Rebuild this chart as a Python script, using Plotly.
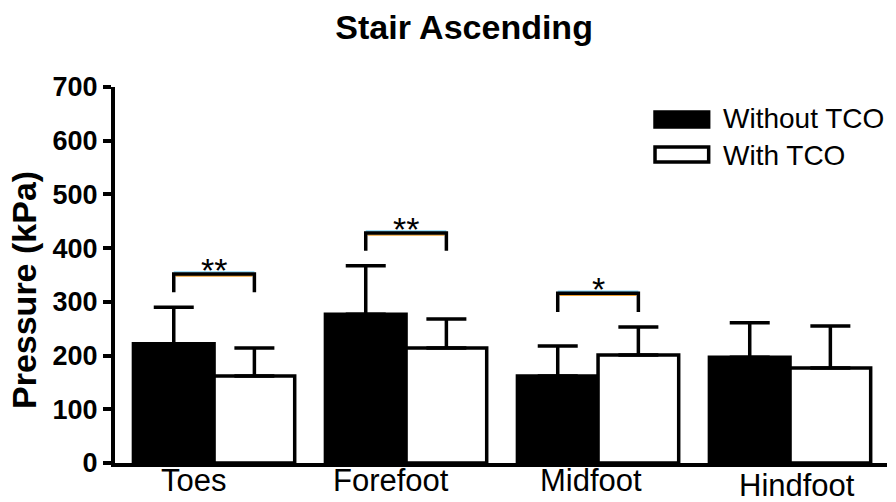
import plotly.graph_objects as go

# Plantar pressure per foot region, stair ascending
regions = ["Toes", "Forefoot", "Midfoot", "Hindfoot"]
without_tco = [222, 277, 162, 197]
without_tco_sd = [68, 90, 56, 64]
with_tco = [162, 214, 201, 177]
with_tco_sd = [52, 54, 52, 78]

# Significance brackets: region index, bracket height, drop end, label
sig_region = [0, 1, 2]
sig_top = [352, 428, 316]
sig_end = [318, 395, 281]
sig_label = ["**", "**", "*"]

# Small horizontal shift of each region label (px) and vertical drop
label_xshift = [-21, -15, -7, 7]
label_yshift = [2, 2, 2, -3]

FONT = "Liberation Sans, Arial, sans-serif"
x = list(range(len(regions)))

fig = go.Figure()
fig.add_trace(go.Bar(
    x=x, y=without_tco, name="Without TCO",
    marker=dict(color="black", line=dict(color="black", width=3.5)),
    error_y=dict(type="data", array=without_tco_sd, arrayminus=[0] * 4,
                 symmetric=False, color="black", thickness=3.5, width=20),
))
fig.add_trace(go.Bar(
    x=x, y=with_tco, name="With TCO",
    marker=dict(color="white", line=dict(color="black", width=3.5)),
    error_y=dict(type="data", array=with_tco_sd, arrayminus=[0] * 4,
                 symmetric=False, color="black", thickness=3.5, width=20),
))

# brackets between the paired bars
half = 0.21
for i, top, end, lab in zip(sig_region, sig_top, sig_end, sig_label):
    xl, xr = i - half, i + half
    fig.add_trace(go.Scatter(x=[xl, xr], y=[top + 3.6, top + 3.6], mode="lines",
                             line=dict(color="#86d4f5", width=1.6),
                             hoverinfo="skip", showlegend=False))
    fig.add_trace(go.Scatter(x=[xl + 0.01, xr - 0.01], y=[top - 3.6, top - 3.6], mode="lines",
                             line=dict(color="#f0a030", width=1.6),
                             hoverinfo="skip", showlegend=False))
    fig.add_trace(go.Scatter(x=[xl, xl, xr, xr], y=[end, top, top, end], mode="lines",
                             line=dict(color="black", width=3.5),
                             hoverinfo="skip", showlegend=False))
    fig.add_annotation(x=i, y=top, xref="x", yref="y", text=lab, showarrow=False,
                       yanchor="middle", yshift=4,
                       font=dict(family=FONT, size=34, color="black"))

# region labels under the axis
for i, name in enumerate(regions):
    fig.add_annotation(x=i, y=0, xref="x", yref="y", text=name, showarrow=False,
                       xanchor="center", yanchor="top",
                       xshift=label_xshift[i], yshift=label_yshift[i],
                       font=dict(family=FONT, size=31, color="black"))

# legend drawn as swatches + text
legend_items = [("Without TCO", "black", 0.9335, 0.8936, 0.915),
                ("With TCO", "white", 0.8404, 0.8005, 0.819)]
for text, fill, y0, y1, ty in legend_items:
    fig.add_shape(type="rect", xref="paper", yref="paper",
                  x0=0.6995, x1=0.769, y0=y1, y1=y0,
                  fillcolor=fill, line=dict(color="black", width=3.5))
    fig.add_annotation(x=0.7855, y=ty, xref="paper", yref="paper", text=text,
                       showarrow=False, xanchor="left", yanchor="middle",
                       font=dict(family=FONT, size=28, color="black"))

# y-axis title
fig.add_annotation(x=-0.1179, y=0.46, xref="paper", yref="paper",
                   text="<b>Pressure (kPa)</b>", textangle=-90, showarrow=False,
                   xanchor="center", yanchor="middle",
                   font=dict(family=FONT, size=34, color="black"))

fig.update_layout(
    width=896, height=502,
    margin=dict(l=115, r=9, t=87, b=39),
    paper_bgcolor="white", plot_bgcolor="white",
    barmode="group", bargap=0.16, bargroupgap=0,
    showlegend=False,
    title=dict(text="<b>Stair Ascending</b>", x=0.518, xref="container",
               xanchor="center", y=0.946, yref="container", yanchor="middle",
               font=dict(family=FONT, size=34, color="black")),
    xaxis=dict(range=[-0.516, 3.505], showticklabels=False, ticks="",
               showline=True, linecolor="black", linewidth=4,
               showgrid=False, zeroline=False, tickvals=x),
    yaxis=dict(range=[0, 700], tickvals=[0, 100, 200, 300, 400, 500, 600, 700],
               ticks="outside", ticklen=8, tickwidth=4, tickcolor="black",
               showline=True, linecolor="black", linewidth=4,
               showgrid=False, zeroline=False,
               tickfont=dict(family=FONT, size=27, color="black", weight="bold")),
)

fig.write_html("out.html")
